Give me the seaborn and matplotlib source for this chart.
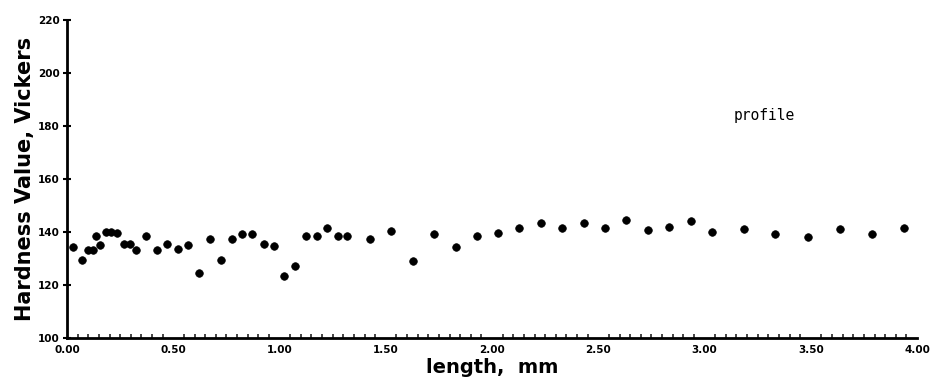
import matplotlib
matplotlib.use("Agg")
import matplotlib.pyplot as plt
import seaborn as sns
import pandas as pd
import numpy as np

length_mm = [0.028, 0.071, 0.099, 0.122, 0.136, 0.155, 0.184, 0.207, 0.235, 0.268,
             0.296, 0.325, 0.372, 0.424, 0.471, 0.522, 0.569, 0.621, 0.673, 0.725,
             0.776, 0.824, 0.871, 0.927, 0.974, 1.021, 1.073, 1.125, 1.176, 1.224,
             1.275, 1.318, 1.426, 1.525, 1.628, 1.727, 1.831, 1.929, 2.028, 2.127,
             2.231, 2.329, 2.433, 2.532, 2.631, 2.734, 2.833, 2.936, 3.035, 3.186,
             3.332, 3.487, 3.638, 3.788, 3.939]
hardness = [134.3, 129.4, 133.2, 133.2, 138.5, 135.1, 140.0, 140.0, 139.6, 135.5,
            135.5, 133.2, 138.5, 133.2, 135.5, 133.6, 135.1, 124.5, 137.4, 129.4,
            137.4, 139.2, 139.2, 135.5, 134.7, 123.4, 127.2, 138.5, 138.5, 141.5,
            138.5, 138.5, 137.4, 140.4, 129.1, 139.2, 134.3, 138.5, 139.6, 141.5,
            143.4, 141.5, 143.4, 141.5, 144.5, 140.8, 141.9, 144.2, 140.0, 141.1,
            139.2, 138.1, 141.1, 139.2, 141.5]
x_ticks = [0.0, 0.5, 1.0, 1.5, 2.0, 2.5, 3.0, 3.5, 4.0]
x_tick_labels = ["0.00", "0.50", "1.00", "1.50", "2.00", "2.50", "3.00", "3.50", "4.00"]
y_ticks = [100, 120, 140, 160, 180, 200, 220]
y_tick_labels = ["100", "120", "140", "160", "180", "200", "220"]
series_name = "profile"

df = pd.DataFrame({"length": length_mm, "hardness": hardness})

sns.set_theme(style="white")
plt.rcParams['font.family'] = ['DejaVu Sans']

fig = plt.figure(figsize=(9.34, 3.88), dpi=100)
ax = fig.add_axes([67/934, 1 - 338/388, (917 - 67)/934, (338 - 20)/388])

sns.scatterplot(data=df, x="length", y="hardness", ax=ax, color="black",
                s=30, edgecolor="black", linewidth=0.5, legend=False)

ax.set_xlim(0, 4.0)
ax.set_ylim(100, 220)
ax.set_xticks(x_ticks)
ax.set_xticklabels(x_tick_labels, fontsize=7.5, fontweight="bold")
ax.set_yticks(y_ticks)
ax.set_yticklabels(y_tick_labels, fontsize=7.5, fontweight="bold")
ax.set_xticks(np.arange(0, 4.0001, 0.05), minor=True)
ax.tick_params(axis="x", which="major", direction="inout", length=6, width=1.5, pad=2, colors="black")
ax.tick_params(axis="x", which="minor", direction="in", length=3, width=1.2, bottom=True)
ax.tick_params(axis="y", which="major", direction="inout", length=6, width=1.5, pad=2, colors="black", left=True)

for side in ["top", "right"]:
    ax.spines[side].set_visible(False)
for side in ["left", "bottom"]:
    ax.spines[side].set_color("black")
    ax.spines[side].set_linewidth(2.0)

ax.set_xlabel("length,  mm", fontsize=14, fontweight="bold", labelpad=2, color="black")
ax.set_ylabel("Hardness Value, Vickers", fontsize=15, fontweight="bold", labelpad=2, color="black")

ax.text(0.784, 0.70, series_name, transform=ax.transAxes, fontsize=10.5,
        family="DejaVu Sans Mono", color="black", va="center")

fig.savefig("out.png", dpi=100, facecolor="white")
